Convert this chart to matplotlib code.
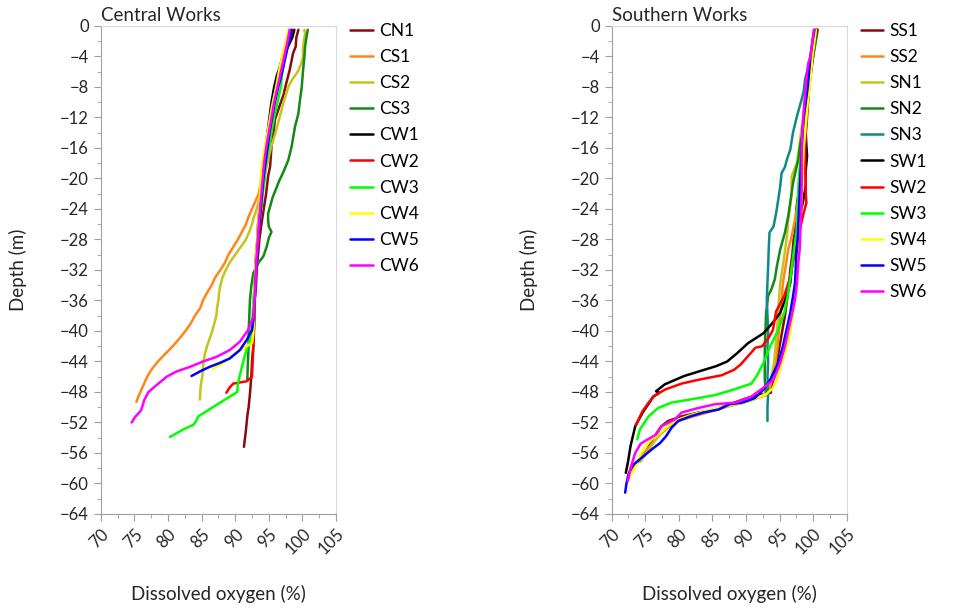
import matplotlib
matplotlib.use("Agg")
import matplotlib.pyplot as plt
from matplotlib.ticker import MultipleLocator

plt.rcParams['font.family'] = ['Lato', 'DejaVu Sans']

# Central Works profiles: depth (m) and dissolved oxygen (%)
cn1_depth = [-0.5, -1.5, -2.7, -3.6, -4.5, -5.8, -7.5, -9, -10.5, -12.3, -14, -15.8, -18.4, -19.7, -22, -23.7, -26, -28, -30, -32, -34, -36, -38, -40, -42, -44, -46, -48.2, -50, -51.2, -53, -55.2]
cn1_do = [99.4, 99.1, 99.0, 98.6, 98.4, 98.1, 97.6, 97.2, 96.6, 95.9, 95.7, 95.4, 95.2, 94.9, 94.6, 94.3, 93.9, 93.6, 93.4, 93.2, 93.1, 92.9, 92.9, 92.8, 92.7, 92.5, 92.4, 92.2, 92.0, 91.8, 91.6, 91.3]

cs1_depth = [-0.5, -2, -4, -6, -8, -10, -12, -14, -16, -18, -20, -22, -23, -24, -25, -26, -27, -28, -29, -30, -31, -32, -33, -34, -35, -36, -37, -38, -39, -40, -41, -42, -43, -44, -45, -46, -47, -48, -48.6, -49.3]
cs1_do = [98.0, 97.6, 97.0, 96.6, 96.2, 95.7, 95.3, 94.9, 94.5, 94.2, 93.9, 93.5, 93.0, 92.5, 92.0, 91.6, 91.0, 90.4, 89.7, 89.0, 88.5, 87.8, 87.0, 86.5, 85.8, 85.2, 84.8, 84.0, 83.4, 82.6, 81.7, 80.7, 79.6, 78.5, 77.6, 76.9, 76.4, 75.9, 75.6, 75.3]

cs2_depth = [-0.5, -1, -2, -3, -4, -5, -6, -7, -8, -10, -12, -14, -16, -18, -20, -22, -23, -24, -25, -26, -27, -28, -29, -30, -31, -32, -33, -34, -35, -36, -37, -38, -39, -40, -41, -42, -43, -44, -45, -46, -47, -48, -49]
cs2_do = [100.3, 100.4, 100.2, 100.1, 100.1, 99.8, 99.3, 98.5, 97.9, 97.2, 96.6, 96.0, 95.3, 94.8, 94.2, 93.8, 93.5, 93.2, 92.8, 92.5, 92.1, 91.6, 90.8, 90.0, 89.2, 88.6, 88.1, 87.8, 87.6, 87.5, 87.3, 87.2, 86.9, 86.6, 86.2, 85.8, 85.5, 85.3, 85.2, 85.1, 84.9, 84.8, 84.75]

cs3_depth = [-0.5, -1.5, -2.7, -4, -5.8, -8, -10, -11.5, -13.2, -15.8, -17.6, -19.3, -20.2, -22.4, -24.6, -25.5, -26.3, -27, -27.8, -28.9, -30.2, -31, -32.4, -34.1, -35.9, -38, -40, -42, -44, -46.4]
cs3_do = [100.8, 100.6, 100.4, 100.3, 100.1, 99.9, 99.6, 99.4, 98.9, 98.4, 97.9, 97.1, 96.6, 95.6, 94.9, 94.9, 95.0, 95.4, 95.0, 94.7, 94.2, 93.5, 92.7, 92.4, 92.2, 92.1, 92.0, 92.0, 91.9, 91.8]

cw1_depth = [-0.5, -1.5, -3, -4.5, -5.5, -6.5, -8, -10, -12, -14, -16, -18, -20, -22, -24, -26, -28, -30, -32, -34, -36, -38]
cw1_do = [98.8, 98.5, 97.7, 96.9, 96.6, 96.2, 95.8, 95.4, 95.1, 94.8, 94.5, 94.2, 94.0, 93.8, 93.6, 93.4, 93.3, 93.1, 93.0, 92.9, 92.8, 92.7]

cw2_depth = [-0.5, -2, -4, -6, -8, -10, -12, -14, -16, -18, -20, -22, -24, -26, -28, -30, -32, -34, -36, -38, -40, -42, -44, -46, -46.6, -46.9, -47.5, -48.1]
cw2_do = [98.5, 98.0, 97.3, 96.7, 96.1, 95.7, 95.3, 95.0, 94.7, 94.4, 94.2, 94.0, 93.8, 93.6, 93.4, 93.3, 93.1, 93.0, 92.9, 92.8, 92.7, 92.7, 92.6, 92.5, 91.7, 89.7, 89.1, 88.7]

cw3_depth = [-0.5, -2, -4, -6, -8, -10, -12, -14, -16, -18, -20, -22, -24, -26, -28, -30, -32, -34, -36, -38, -40, -41.2, -43, -44.7, -46.9, -48, -51.2, -51.8, -52.3, -52.9, -53.4, -53.9]
cw3_do = [98.2, 97.8, 97.4, 97.0, 96.8, 96.3, 95.8, 95.4, 95.0, 94.6, 94.4, 94.1, 93.9, 93.6, 93.4, 93.2, 93.0, 92.9, 92.7, 92.6, 92.4, 92.2, 91.5, 91.0, 90.4, 90.3, 84.5, 84.2, 83.8, 82.3, 81.3, 80.3]

cw4_depth = [-0.5, -2, -4, -6, -8, -10, -12, -14, -16, -18, -20, -22, -24, -26, -28, -30, -32, -34, -36, -38, -40.3, -41.6, -42.5, -43.6, -44.5, -44.9]
cw4_do = [97.9, 97.6, 97.0, 96.5, 96.1, 95.6, 95.2, 94.8, 94.4, 94.0, 93.8, 93.7, 93.6, 93.4, 93.3, 93.1, 93.0, 92.9, 92.8, 92.8, 92.7, 92.5, 90.7, 89.0, 87.7, 86.7]

cw5_depth = [-0.5, -2, -4, -6, -8, -10, -12, -14, -16, -18, -20, -22, -24, -26, -28, -30, -32, -34, -36, -38.6, -39.9, -41.2, -42.5, -43.6, -44.2, -44.7, -45.2, -45.9]
cw5_do = [98.4, 98.0, 97.5, 97.0, 96.4, 95.9, 95.5, 95.1, 94.8, 94.5, 94.2, 94.0, 93.8, 93.6, 93.4, 93.3, 93.1, 93.0, 92.9, 92.7, 92.5, 91.7, 90.7, 89.2, 87.7, 86.2, 85.0, 83.5]

cw6_depth = [-0.5, -2, -4, -6, -8, -10, -12, -14, -16, -18, -20, -22, -24, -26, -28, -30, -32, -34, -35.9, -38.1, -39.9, -41.4, -42.5, -43.4, -44.0, -44.7, -45.3, -46.0, -47.1, -48.0, -49.0, -50.4, -51.3, -52.0]
cw6_do = [98.1, 97.8, 97.3, 96.8, 96.3, 95.8, 95.4, 95.0, 94.6, 94.3, 94.1, 93.9, 93.7, 93.5, 93.4, 93.2, 93.1, 93.0, 92.9, 92.7, 91.9, 90.7, 89.2, 87.2, 85.2, 83.3, 81.3, 79.8, 78.3, 77.1, 76.5, 76.0, 75.1, 74.6]

# Southern Works profiles
ss1_depth = [-0.5, -2, -4, -6, -8, -10, -12, -14, -16, -18, -20, -22, -24, -26, -27, -28, -30, -32, -34, -36, -38, -40, -42, -44, -46, -47.2, -48.1, -48.5, -49.0, -49.6, -50.3, -50.7, -51.2, -51.8, -52.5, -53.4, -54.7, -56.0, -57.0, -57.7, -58.3]
ss1_do = [100.6, 100.3, 100.0, 99.7, 99.4, 99.1, 98.9, 98.7, 98.5, 98.2, 98.0, 97.8, 97.5, 97.4, 97.3, 97.1, 96.9, 96.6, 96.4, 96.1, 95.8, 95.4, 95.0, 94.6, 94.2, 93.8, 93.7, 91.3, 89.5, 87.6, 85.4, 82.9, 80.4, 78.4, 77.4, 76.7, 75.8, 75.0, 74.0, 73.4, 72.8]

ss2_depth = [-0.5, -2, -4, -6, -8, -10, -12, -14, -16, -18, -20, -22.8, -25.4, -27.6, -29.3, -31, -33.7, -36, -38, -40, -42, -44, -46, -47.5, -48.4, -49.0, -49.4, -49.8, -50.3, -50.8, -51.3, -51.8, -52.5, -53.5, -54.5, -55.5, -56.5, -57.5]
ss2_do = [100.4, 100.1, 99.8, 99.5, 99.2, 98.9, 98.7, 98.5, 98.3, 98.1, 97.9, 97.8, 97.3, 96.8, 96.3, 96.0, 95.5, 95.3, 95.1, 94.9, 94.7, 94.4, 94.0, 93.5, 93.0, 91.0, 89.5, 87.5, 85.8, 83.8, 81.8, 80.0, 78.6, 77.3, 76.3, 75.3, 74.4, 73.6]

sn1_depth = [-0.5, -2, -4, -6, -8, -10, -12, -14, -16, -17.9, -19.7, -21.9, -23.5, -25.4, -27.6, -29.5, -31.5, -33.7, -36, -38, -40, -42, -44, -46, -47.5, -48.5, -49.2, -49.7, -50.2, -50.6, -51.0, -51.5, -52.2, -53.2, -54.3, -55.5, -56.5, -57.2]
sn1_do = [100.2, 100.0, 99.7, 99.4, 99.1, 98.8, 98.5, 98.2, 97.9, 97.6, 96.8, 96.8, 96.6, 96.3, 96.1, 95.8, 95.5, 95.1, 94.9, 94.8, 94.6, 94.4, 94.2, 93.8, 93.3, 92.5, 90.5, 88.3, 86.0, 84.0, 82.0, 80.3, 78.8, 77.5, 76.5, 75.6, 74.8, 74.2]

sn2_depth = [-0.5, -2, -4, -6, -8, -10, -12, -14, -16, -17.5, -19, -20.6, -22.5, -24.9, -27.1, -29.3, -31.5, -33.2, -34.5, -35.4, -37.6, -40, -42, -44, -46.4, -48.1]
sn2_do = [100.7, 100.4, 100.0, 99.6, 99.3, 99.0, 98.7, 98.4, 98.0, 97.8, 97.4, 97.0, 96.7, 96.3, 95.8, 95.1, 94.6, 94.3, 93.8, 93.3, 93.0, 92.9, 92.8, 92.8, 92.8, 93.0]

sn3_depth = [-0.5, -2, -3.5, -5.3, -7, -8.5, -9.6, -11.8, -14, -16.2, -17.5, -18.5, -19.3, -21, -22.8, -24.5, -26.3, -27.1, -29, -31.5, -33.6, -35.9, -38, -40, -42, -44, -46, -48, -50, -51.8]
sn3_do = [100.4, 100.1, 99.7, 99.3, 98.8, 98.6, 98.3, 97.6, 97.0, 96.6, 96.1, 95.8, 95.3, 95.1, 94.8, 94.5, 94.1, 93.5, 93.4, 93.3, 93.2, 93.1, 93.2, 93.3, 93.2, 93.3, 93.2, 93.3, 93.2, 93.2]

sw1_depth = [-0.5, -2, -4, -6, -8, -10, -12, -14, -15.8, -17, -19, -21, -23, -25, -27.1, -29, -31, -33.7, -35.5, -37.6, -38.9, -40.3, -41.6, -42.9, -44.0, -44.6, -45.3, -45.9, -47.0, -47.9, -48.1, -48.6, -49.4, -50.7, -52.5, -55.1, -57.3, -58.6]
sw1_do = [100.5, 100.2, 99.9, 99.6, 99.4, 99.2, 99.0, 98.9, 99.0, 99.1, 98.9, 98.9, 98.5, 98.0, 97.5, 97.2, 96.9, 96.6, 96.0, 95.1, 94.0, 92.6, 90.3, 88.7, 87.2, 85.6, 83.0, 80.8, 77.9, 76.6, 77.1, 76.2, 75.6, 74.6, 73.5, 72.8, 72.4, 72.1]

sw2_depth = [-0.5, -2, -4, -6, -8, -9.2, -12, -14, -16.6, -18, -20, -22, -23.2, -24.5, -26, -28, -29.5, -31.5, -33.2, -35.4, -37.4, -39.9, -41.0, -42.0, -42.2, -43.1, -44.4, -45.1, -45.8, -46.4, -46.9, -47.7, -48.6, -49.4, -50.5, -51.6, -52.3]
sw2_do = [100.5, 100.2, 99.9, 99.6, 99.4, 99.3, 99.1, 98.9, 98.8, 98.8, 98.9, 98.9, 99.0, 98.6, 98.2, 97.7, 97.3, 96.9, 96.5, 95.7, 94.5, 94.0, 93.3, 92.4, 91.4, 90.5, 89.2, 88.2, 86.4, 82.9, 80.4, 77.9, 76.2, 75.5, 74.6, 74.0, 73.6]

sw3_depth = [-0.5, -2, -4, -6, -8, -10, -12, -14, -16, -18, -20, -22, -24, -26, -27.1, -29, -31, -33.2, -35.4, -37.6, -39.9, -42, -44.2, -45.9, -46.9, -47.7, -48.4, -48.8, -49.4, -50.1, -51.2, -52.9, -54.2]
sw3_do = [100.3, 100.0, 99.7, 99.5, 99.3, 99.1, 98.8, 98.6, 98.4, 98.1, 97.9, 97.8, 97.7, 97.6, 97.5, 97.2, 96.9, 96.6, 96.2, 95.7, 94.8, 93.6, 92.6, 91.6, 90.8, 88.1, 85.4, 82.9, 78.9, 76.9, 75.5, 74.2, 73.8]

sw4_depth = [-0.5, -2, -4, -6, -8, -10, -12, -14, -16, -18, -20, -22, -24, -26, -28, -30, -32, -34, -36, -37.6, -40, -42, -44, -46.4, -47.5, -48.3, -48.8, -49.3, -49.7, -50.1, -50.5, -51.0, -51.6, -52.3, -53.3, -54.2, -55.2, -56.5, -57.7, -58.6, -59.5]
sw4_do = [100.4, 100.2, 99.9, 99.7, 99.5, 99.2, 99.0, 98.8, 98.6, 98.5, 98.4, 98.3, 98.2, 98.0, 97.8, 97.6, 97.4, 97.3, 97.2, 97.0, 96.6, 96.1, 95.4, 94.6, 94.0, 93.0, 91.5, 89.8, 87.8, 85.9, 83.9, 81.9, 80.0, 78.6, 77.3, 76.0, 74.9, 74.1, 73.6, 73.0, 72.5]

sw5_depth = [-0.5, -2, -4, -6, -8, -10, -12, -14, -16, -18, -20, -22, -24, -26, -28, -30, -32, -33.7, -35.5, -37.6, -40, -42, -44.2, -46.4, -47.7, -48.8, -49.4, -49.6, -50.3, -50.7, -51.2, -51.8, -52.7, -53.8, -54.7, -55.5, -56.6, -57.7, -58.8, -60, -61.2]
sw5_do = [100.2, 99.9, 99.6, 99.4, 99.2, 98.9, 98.6, 98.4, 98.3, 98.2, 98.1, 98.0, 97.9, 97.8, 97.7, 97.5, 97.4, 97.3, 97.0, 96.6, 96.0, 95.5, 94.8, 93.6, 92.6, 91.3, 89.4, 87.6, 85.9, 83.6, 81.7, 79.9, 78.9, 78.1, 77.2, 76.0, 74.5, 73.0, 72.5, 72.2, 72.0]

sw6_depth = [-0.5, -2, -4, -4.8, -6, -8, -10, -12.3, -14, -16, -18, -21.1, -24, -27, -29.3, -31, -33.7, -35.9, -37.6, -40, -42, -44.2, -46.4, -47.5, -48.6, -49.4, -49.6, -50.1, -50.7, -51.6, -52.5, -53.6, -54.3, -54.8, -56.0, -57.7, -59.7]
sw6_do = [100.1, 99.9, 99.6, 99.3, 99.1, 98.9, 98.7, 98.5, 98.4, 98.3, 98.3, 98.3, 98.2, 98.1, 98.0, 97.8, 97.6, 97.3, 96.9, 96.3, 95.8, 95.1, 94.1, 92.5, 90.8, 88.4, 85.4, 82.9, 80.4, 79.4, 77.4, 76.6, 75.2, 74.3, 73.5, 72.9, 72.4]

central = [
    ("CN1", cn1_depth, cn1_do, "#8b0a0a"),
    ("CS1", cs1_depth, cs1_do, "#ff8618"),
    ("CS2", cs2_depth, cs2_do, "#c4c41c"),
    ("CS3", cs3_depth, cs3_do, "#138a13"),
    ("CW1", cw1_depth, cw1_do, "#000000"),
    ("CW2", cw2_depth, cw2_do, "#ff0000"),
    ("CW3", cw3_depth, cw3_do, "#00ff00"),
    ("CW4", cw4_depth, cw4_do, "#ffff00"),
    ("CW5", cw5_depth, cw5_do, "#0000ff"),
    ("CW6", cw6_depth, cw6_do, "#ff00ff"),
]

southern = [
    ("SS1", ss1_depth, ss1_do, "#8b0a0a"),
    ("SS2", ss2_depth, ss2_do, "#ff8618"),
    ("SN1", sn1_depth, sn1_do, "#c4c41c"),
    ("SN2", sn2_depth, sn2_do, "#138a13"),
    ("SN3", sn3_depth, sn3_do, "#0e8a8a"),
    ("SW1", sw1_depth, sw1_do, "#000000"),
    ("SW2", sw2_depth, sw2_do, "#ff0000"),
    ("SW3", sw3_depth, sw3_do, "#00ff00"),
    ("SW4", sw4_depth, sw4_do, "#ffff00"),
    ("SW5", sw5_depth, sw5_do, "#0000ff"),
    ("SW6", sw6_depth, sw6_do, "#ff00ff"),
]

TXT = '#262626'


def profile_panel(ax, series, title):
    for name, depth, do, color in series:
        ax.plot(do, depth, color=color, lw=1.8, label=name, solid_capstyle='round')
    ax.set_xlim(70, 105)
    ax.set_ylim(-64, 0)
    ax.xaxis.set_major_locator(MultipleLocator(5))
    ax.xaxis.set_minor_locator(MultipleLocator(2.5))
    ax.yaxis.set_major_locator(MultipleLocator(4))
    ax.yaxis.set_minor_locator(MultipleLocator(2))
    ax.tick_params(which='both', direction='out', color='#a0a0a0', labelsize=12, labelcolor=TXT)
    ax.tick_params(which='major', length=5)
    ax.tick_params(which='minor', length=3)
    for lab in ax.get_xticklabels():
        lab.set_rotation(45)
        lab.set_ha('right')
        lab.set_rotation_mode('anchor')
    for side in ('left', 'bottom'):
        ax.spines[side].set_color('#a0a0a0')
    for side in ('top', 'right'):
        ax.spines[side].set_color('#d9d9d9')
    ax.set_xlabel("Dissolved oxygen (%)", fontsize=13.5, color=TXT)
    ax.set_ylabel("Depth (m)", fontsize=13.5, color=TXT)
    ax.xaxis.set_label_coords(0.5, -0.145)
    ax.yaxis.set_label_coords(-0.312, 0.5)
    ax.text(0.0, 1.004, title, transform=ax.transAxes, fontsize=13.5, color=TXT, va='bottom', ha='left')
    ax.legend(loc='upper left', bbox_to_anchor=(1.03, 1.02), frameon=False, fontsize=12.5,
              handlelength=1.3, handletextpad=0.35, labelspacing=0.58, borderaxespad=0.0)


fig = plt.figure(figsize=(9.65, 6.1), dpi=100)
ax1 = fig.add_axes([0.1044, 0.1574, 0.2438, 0.8])
ax2 = fig.add_axes([0.6339, 0.1574, 0.2435, 0.8])

profile_panel(ax1, central, "Central Works")
profile_panel(ax2, southern, "Southern Works")

fig.savefig("out.png", dpi=100)
